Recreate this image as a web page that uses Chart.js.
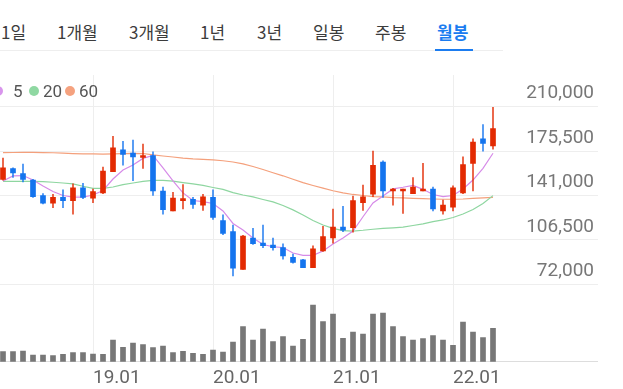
<!DOCTYPE html>
<html><head><meta charset="utf-8">
<script src="https://cdn.jsdelivr.net/npm/chart.js@4.4.1/dist/chart.umd.min.js"></script>
<style>
html,body{margin:0;padding:0;background:#fff;}
body{width:623px;height:389px;overflow:hidden;position:relative;font-family:Roboto,'Noto Sans CJK KR',sans-serif;}
.tab{position:absolute;top:21px;font-family:'Noto Sans CJK KR';font-size:17px;color:#3c3c3c;line-height:22px;white-space:nowrap;}
.tab.on{color:#1b7cf0;font-weight:700;}
#sep{position:absolute;left:0;top:50px;width:503px;height:1px;background:#eeeeee;}
#ul{position:absolute;left:435px;top:49px;width:38px;height:2px;background:#1b7cf0;}
#legend{position:absolute;top:81px;left:0;height:20px;width:120px;font-family:Roboto;font-size:17px;color:#555;z-index:2;}
.dot{position:absolute;top:5px;width:10px;height:10px;border-radius:50%;}
.lt{position:absolute;top:0;line-height:20px;}
#wrap{position:absolute;left:-2px;top:75px;width:600px;height:314px;}
</style></head>
<body>
<div class="tab" style="left:1px">1일</div>
<div class="tab" style="left:57px">1개월</div>
<div class="tab" style="left:129px">3개월</div>
<div class="tab" style="left:200px">1년</div>
<div class="tab" style="left:257px">3년</div>
<div class="tab" style="left:313px">일봉</div>
<div class="tab" style="left:375px">주봉</div>
<div class="tab on" style="left:437px">월봉</div>
<div id="sep"></div><div id="ul"></div>
<div id="legend">
  <span class="dot" style="left:-7px;background:#d895ec"></span><span class="lt" style="left:13px">5</span>
  <span class="dot" style="left:28.5px;background:#8fd8a2"></span><span class="lt" style="left:43px">20</span>
  <span class="dot" style="left:65px;background:#f5a27f"></span><span class="lt" style="left:79px">60</span>
</div>
<div id="wrap"><canvas id="c" width="600" height="314"></canvas></div>
<script>
const MONTHS = ['18.04','18.05','18.06','18.07','18.08','18.09','18.10','18.11','18.12',
  '19.01','19.02','19.03','19.04','19.05','19.06','19.07','19.08','19.09','19.10','19.11','19.12',
  '20.01','20.02','20.03','20.04','20.05','20.06','20.07','20.08','20.09','20.10','20.11','20.12',
  '21.01','21.02','21.03','21.04','21.05','21.06','21.07','21.08','21.09','21.10','21.11','21.12',
  '22.01','22.02','22.03','22.04','22.05'];
const OPEN  = [153500,162000,158000,153000,141000,135000,139500,137000,147000,139000,
  143000,159500,176500,174000,170500,172000,144500,129000,137000,138000,
  133500,139500,121500,113000,83500,108000,104000,102500,100500,93000,
  91000,85000,98000,108000,116500,116000,135500,142000,167000,144500,
  144500,142500,144500,146000,129000,132000,143000,166000,185000,179500];
const HIGH  = [170000,162500,165500,153500,142500,142000,145500,150000,150500,146000,
  163000,187000,183000,184000,181000,175000,147500,143500,149500,139500,
  142000,145500,126000,118000,110000,115500,118000,108000,103500,95500,
  91500,102000,117000,130500,132500,140500,149000,175500,168000,146500,
  146000,155000,166000,147500,137500,148500,171000,185000,196000,209500];
const LOW   = [153000,155000,151500,139500,134500,131500,131500,126500,138500,135500,
  142500,159500,164500,152500,162000,141000,126500,129000,130500,131000,
  129500,122500,110500,78500,83500,103000,100500,98500,91500,88500,
  85000,85000,97500,104000,113000,112500,129500,140000,139500,133500,
  127000,142500,144500,129000,126500,129000,142500,144500,175500,177000];
const CLOSE = [162500,158500,153500,140000,135000,139500,137000,147000,139500,144000,
  160000,178000,173000,171000,172000,144500,130000,139000,138000,134000,
  140000,124000,111500,84500,109500,103500,102000,100500,94000,89000,
  85000,99500,109000,116500,114000,137000,140000,164500,144500,146000,
  145500,147500,146000,130500,133500,147000,165000,182500,181500,193000];
const MA5  = [152300,156200,156500,153000,148400,144100,141000,139800,139800,141400,
  144900,153800,160800,164700,169800,172100,162400,152300,143000,137100,
  136200,134800,129000,119300,114200,108000,102900,101200,100600,96300,
  94500,94500,97900,103300,108000,113400,124500,135200,140600,146100,
  147400,148900,145800,141800,140200,141000,146100,153000,162100,173800];
const MA20 = [152000,151900,151900,151900,151700,151300,150700,150000,148200,146600,
  146600,147600,149400,150700,151900,152700,152700,152100,151000,150000,
  148800,147200,145700,143200,141400,139900,137900,136000,133200,129800,
  125900,121600,118100,115500,113700,113400,114000,114800,115400,115900,
  116500,117700,119000,120700,122000,123900,126600,130100,134800,140900];
const MA60 = [174300,174400,174500,174500,174300,174200,173900,173600,173400,173300,
  173100,173300,173600,173700,173600,172500,171700,170900,170000,169400,
  169000,168600,168000,167000,165500,163500,161200,158700,156300,153600,
  151000,148800,146700,144700,143000,141800,141000,140200,139900,139400,
  139100,138800,138500,138300,138100,138100,138300,138700,139100,139600];
const VOLUME = [100000,100000,107000,67000,67000,60000,74000,90000,90000,77000,
  74000,217000,144000,187000,170000,140000,157000,90000,104000,84000,
  74000,117000,97000,197000,350000,217000,327000,200000,250000,157000,
  224000,567000,400000,477000,234000,297000,277000,477000,487000,350000,
  250000,217000,230000,260000,217000,164000,397000,297000,240000,334000];
const PRICE_TICKS = [72000,106500,141000,175500,210000];
const EMPTY_SLOTS = ['','','','','','','','','',''];

const PRICE_MIN = 11900, PRICE_MAX = 234600, VOL_MAX = 2867000;
const UP = '#e32a02', DOWN = '#1474ee';
const GRID = '#eeeeee';
const candleColors = OPEN.map((o, i) => CLOSE[i] >= o ? UP : DOWN);
const wickColors = OPEN.map((o, i) => CLOSE[i] >= o ? 'rgba(227,42,2,0.85)' : 'rgba(20,116,238,0.85)');
const cats = MONTHS.concat(EMPTY_SLOTS);

new Chart(document.getElementById('c'), {
  type: 'bar',
  data: {
    labels: cats,
    datasets: [
      { type: 'line', data: MA5, borderColor: '#d68be8', borderWidth: 1.2, pointRadius: 0, yAxisID: 'y', order: 2 },
      { type: 'line', data: MA20, borderColor: '#8ed6a0', borderWidth: 1.2, pointRadius: 0, yAxisID: 'y', order: 3 },
      { type: 'line', data: MA60, borderColor: '#f4a07c', borderWidth: 1.2, pointRadius: 0, yAxisID: 'y', order: 4 },
      { data: LOW.map((l, i) => [l, HIGH[i]]), backgroundColor: wickColors, barThickness: 1, grouped: false, borderWidth: 0, yAxisID: 'y', order: 1 },
      { data: OPEN.map((o, i) => [o, CLOSE[i]]), backgroundColor: candleColors, barThickness: 5, minBarLength: 2, grouped: false, borderWidth: 0, yAxisID: 'y', order: 0 },
      { data: VOLUME, backgroundColor: '#777777', barThickness: 5, grouped: false, borderWidth: 0, yAxisID: 'yv', order: 5 }
    ]
  },
  options: {
    responsive: false, animation: false, devicePixelRatio: 1,
    layout: { padding: 0 },
    plugins: { legend: { display: false }, tooltip: { enabled: false } },
    scales: {
      x: {
        type: 'category', offset: true,
        grid: { offset: false, drawTicks: false, color: c => (c.tick && c.tick.label) ? GRID : 'rgba(0,0,0,0)' },
        border: { display: true, color: '#dddddd' },
        ticks: { autoSkip: false, maxRotation: 0, minRotation: 0, align: 'start', padding: 5,
          color: '#666', font: { family: 'Roboto', size: 19 },
          callback: function(v, i) { const l = cats[i]; return l.endsWith('.01') ? l : ''; } },
        afterFit: s => { s.height = 27.3; s.paddingLeft = 0; s.paddingRight = 0; }
      },
      y: {
        type: 'linear', position: 'right', min: PRICE_MIN, max: PRICE_MAX,
        afterBuildTicks: s => { s.ticks = PRICE_TICKS.map(v => ({ value: v })); },
        grid: { color: GRID, drawTicks: false },
        border: { display: false },
        ticks: { mirror: true, labelOffset: -13, padding: -4, color: '#777',
          font: { family: 'Roboto', size: 19 },
          callback: v => v.toLocaleString('en-US') },
        afterFit: s => { s.width = 0; s.paddingTop = 0; s.paddingBottom = 0; }
      },
      yv: { type: 'linear', display: false, min: 0, max: VOL_MAX }
    }
  }
});
</script>
</body></html>
